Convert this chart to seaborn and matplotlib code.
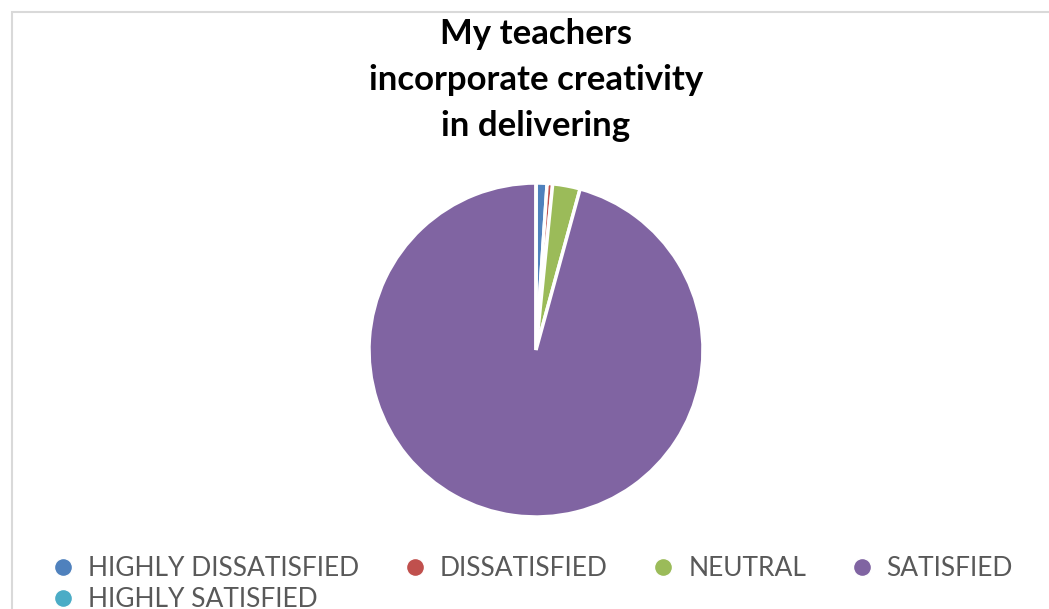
import matplotlib
matplotlib.use("Agg")
import matplotlib.pyplot as plt
from matplotlib.lines import Line2D
from matplotlib.patches import Rectangle
import seaborn as sns

sns.set_theme(style="white")

categories = ["HIGHLY DISSATISFIED", "DISSATISFIED", "NEUTRAL", "SATISFIED", "HIGHLY SATISFIED"]
values = [2, 1, 5, 180, 0]
colors = ["#4F81BD", "#C0504D", "#9BBB59", "#8064A2", "#4BACC6"]
title = "My teachers\nincorporate creativity\nin delivering"

W, H = 1049, 609
fig = plt.figure(figsize=(W / 100, H / 100), dpi=100)
fig.patch.set_facecolor("white")

# chart frame
fig.patches.append(Rectangle((12 / W, -0.1), 1.2, (H - 12) / H + 0.1, transform=fig.transFigure,
                             fill=False, edgecolor="#D9D9D9", linewidth=1.5))

cx, cy, r = 536, H - 350, 167
ax = fig.add_axes([(cx - r) / W, (cy - r) / H, 2 * r / W, 2 * r / H])
ax.pie(values, colors=colors, startangle=90, counterclock=False,
       wedgeprops=dict(edgecolor="white", linewidth=2.5))
ax.set_xlim(-1.0, 1.0)
ax.set_ylim(-1.0, 1.0)
ax.set_aspect("equal")
ax.axis("off")

fig.text(536 / W, 1 - 80 / H, title, ha="center", va="center", fontsize=25,
         fontweight="bold", family=["Lato", "DejaVu Sans"], linespacing=1.55, color="black")

handles = [Line2D([], [], marker="o", linestyle="none", markersize=13, markerfacecolor=c,
                  markeredgecolor="white", markeredgewidth=1) for c in colors]
order = [0, 4, 1, 2, 3]
leg = fig.legend([handles[i] for i in order], [categories[i] for i in order],
                 ncol=4, loc="upper left", bbox_to_anchor=(50 / W, 1 - 556 / H),
                 frameon=False, handletextpad=0.45, columnspacing=1.6,
                 labelspacing=0.22, handlelength=1.0, borderaxespad=0, borderpad=0,
                 prop=dict(family=["Lato", "DejaVu Sans"], size=19))
for t in leg.get_texts():
    t.set_color("#595959")

fig.savefig("out.png", dpi=100)
